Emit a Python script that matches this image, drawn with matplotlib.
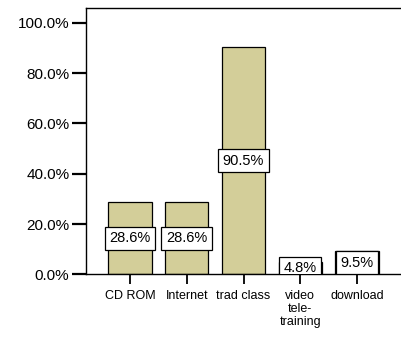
import matplotlib
matplotlib.use("Agg")
import matplotlib.pyplot as plt
from matplotlib.ticker import FuncFormatter

categories = ["CD ROM", "Internet", "trad class", "video\ntele-\ntraining", "download"]
percents   = [28.6, 28.6, 90.5, 4.8, 9.5]
yticks     = [0, 20, 40, 60, 80, 100]

plt.rcParams['font.family'] = ['Liberation Sans', 'DejaVu Sans']

fig = plt.figure(figsize = (4.01, 3.51), dpi = 100)
ax  = fig.add_axes([0.2145, 0.218, 0.7855, 0.759])

xpos = list(range(len(categories)))
ax.bar(xpos, percents, width = 0.76, color = '#D3CE99', edgecolor = 'black', linewidth = 0.9, zorder = 2)

for x, v in zip(xpos, percents):
    ax.text(x, v / 2, f"{v:.1f}%", ha = 'center', va = 'center', fontsize = 10.5, zorder = 3,
            clip_on = True,
            bbox = dict(boxstyle = 'square,pad=0.32', facecolor = 'white', edgecolor = 'black', linewidth = 0.9))

ax.set_xlim(-0.775, 4.775)
ax.set_ylim(0, 105.8)
ax.set_yticks(yticks)
ax.yaxis.set_major_formatter(FuncFormatter(lambda y, _: f"{y:.1f}%"))
ax.set_xticks(xpos)
ax.set_xticklabels(categories, fontsize = 9, linespacing = 1.15)

ax.tick_params(axis = 'y', length = 10, width = 1.6, labelsize = 11, pad = 2)
ax.tick_params(axis = 'x', length = 7, width = 1.3, pad = 4)
ax.spines['right'].set_visible(False)
for side in ['left', 'top', 'bottom']:
    ax.spines[side].set_linewidth(1.0)

fig.savefig("out.png", dpi = 100)
